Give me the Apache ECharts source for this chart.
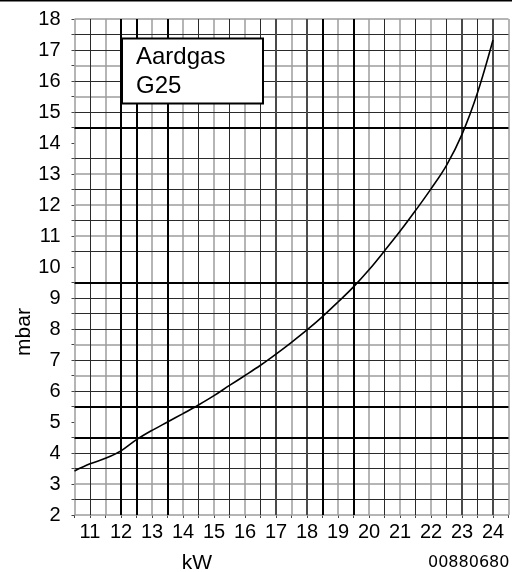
<!DOCTYPE html>
<html>
<head>
<meta charset="utf-8">
<script src="https://cdn.jsdelivr.net/npm/echarts@6/dist/echarts.min.js"></script>
<style>
  html, body { margin: 0; padding: 0; background: #fff; }
  #chart { width: 512px; height: 572px; }
</style>
</head>
<body>
<div id="chart"></div>
<script>
// Gas pressure curve: burner load (kW) against nozzle pressure (mbar)
const kW = [10.5, 11, 11.5, 12, 12.5, 13, 13.5, 14, 14.5, 15, 15.5, 16, 16.5, 17, 17.5,
            18, 18.5, 19, 19.5, 20, 20.5, 21, 21.5, 22, 22.5, 23, 23.5, 24];
const mbar = [3.42, 3.65, 3.83, 4.07, 4.43, 4.73, 5.0, 5.27, 5.55, 5.85, 6.18, 6.5, 6.83, 7.19, 7.57,
              7.97, 8.4, 8.87, 9.36, 9.91, 10.52, 11.15, 11.82, 12.52, 13.28, 14.28, 15.62, 17.32];

// Axis ranges
const kWRange = [10.5, 24.5];
const mbarRange = [2, 18];

// Grid rulings at half-unit steps, grouped by weight
const vLight = [10.5, 11.5, 13, 14, 15, 16, 17.5, 19, 20, 21, 22, 24.5];
const vDark  = [11, 14.5, 15.5, 16.5, 20.5, 21.5, 22.5, 23.5];
const vHeavy = [17, 18, 23, 24];
const vBlack = [12, 12.5, 13.5, 18.5, 19.5];
const hLight = [2, 3, 6.5, 7.5, 11, 12, 13, 15.5, 16.5, 18];
const hDark  = [2.5, 3.5, 4, 6, 7, 8, 8.5, 9, 10.5, 11.5, 12.5, 13.5, 15, 16, 17, 17.5];
const hBlack = [4.5, 5.5, 9.5, 14.5];

const gasName = ['Aardgas', 'G25'];
const docCode = '00880680';

const styles = {
  light: { color: '#9c9c9c', width: 1.5, type: 'solid' },
  dark:  { color: '#2a2a2a', width: 1, type: 'solid' },
  heavy: { color: '#4a4a4a', width: 2, type: 'solid' },
  black: { color: '#000000', width: 2, type: 'solid' }
};

function rulings(key, values, style) {
  return values.map(v => ({ [key]: v, lineStyle: style }));
}

const gridLines = [].concat(
  rulings('yAxis', hLight, styles.light),
  rulings('xAxis', vLight, styles.light),
  rulings('yAxis', hDark, styles.dark),
  rulings('xAxis', vDark, styles.dark),
  rulings('xAxis', vHeavy, styles.heavy),
  rulings('yAxis', hBlack, styles.black),
  rulings('xAxis', vBlack, styles.black)
);

const font = '"Liberation Sans", Arial, sans-serif';
const intLabel = v => (Math.abs(v - Math.round(v)) < 1e-9 ? String(Math.round(v)) : '');

const chart = echarts.init(document.getElementById('chart'), null, { renderer: 'canvas' });
chart.setOption({
  animation: false,
  backgroundColor: '#fff',
  grid: { left: 74.5, right: 3.5, top: 19, bottom: 57 },
  xAxis: {
    type: 'value', min: kWRange[0], max: kWRange[1], interval: 0.5,
    axisLine: { show: false },
    axisTick: { show: true, length: 3, lineStyle: { color: '#444', width: 1 } },
    splitLine: { show: false },
    axisLabel: { formatter: intLabel, fontSize: 20, color: '#000', fontFamily: font, margin: 7,
                 showMinLabel: true, showMaxLabel: true, hideOverlap: false }
  },
  yAxis: {
    type: 'value', min: mbarRange[0], max: mbarRange[1], interval: 0.5,
    axisLine: { show: false },
    axisTick: { show: true, length: 3, lineStyle: { color: '#444', width: 1 } },
    splitLine: { show: false },
    axisLabel: { formatter: intLabel, fontSize: 20, color: '#000', fontFamily: font, margin: 14,
                 showMinLabel: true, showMaxLabel: true, hideOverlap: false }
  },
  series: [
    {
      type: 'line', data: [], z: 1, silent: true,
      markLine: {
        silent: true, symbol: ['none', 'none'], label: { show: false },
        emphasis: { disabled: true }, animation: false,
        data: gridLines
      }
    },
    {
      type: 'line', z: 5, silent: true,
      data: kW.map((x, i) => [x, mbar[i]]),
      smooth: 0.35, showSymbol: false, symbol: 'none',
      lineStyle: { color: '#000', width: 1.6 }
    }
  ],
  graphic: [
    { type: 'line', z: 10, shape: { x1: 0, y1: 0.75, x2: 512, y2: 0.75 },
      style: { stroke: '#000', lineWidth: 1.5 } },
    { type: 'rect', z: 10, shape: { x: 122, y: 38.5, width: 141, height: 65 },
      style: { fill: '#fff', stroke: '#000', lineWidth: 2 } },
    { type: 'text', z: 11, x: 136, y: 57,
      style: { text: gasName[0], font: '24px ' + font, fill: '#000', verticalAlign: 'middle' } },
    { type: 'text', z: 11, x: 136, y: 86,
      style: { text: gasName[1], font: '24px ' + font, fill: '#000', verticalAlign: 'middle' } },
    { type: 'text', z: 11, x: 197, y: 563,
      style: { text: 'kW', font: '21px ' + font, fill: '#000', align: 'center', verticalAlign: 'middle' } },
    { type: 'text', z: 11, x: 24, y: 332, rotation: Math.PI / 2,
      style: { text: 'mbar', font: '21px ' + font, fill: '#000', align: 'center', verticalAlign: 'middle' } },
    { type: 'text', z: 11, x: 428, y: 563,
      style: { text: docCode, font: '16px "DejaVu Sans", sans-serif', fill: '#000', verticalAlign: 'middle' } }
  ]
});
</script>
</body>
</html>
